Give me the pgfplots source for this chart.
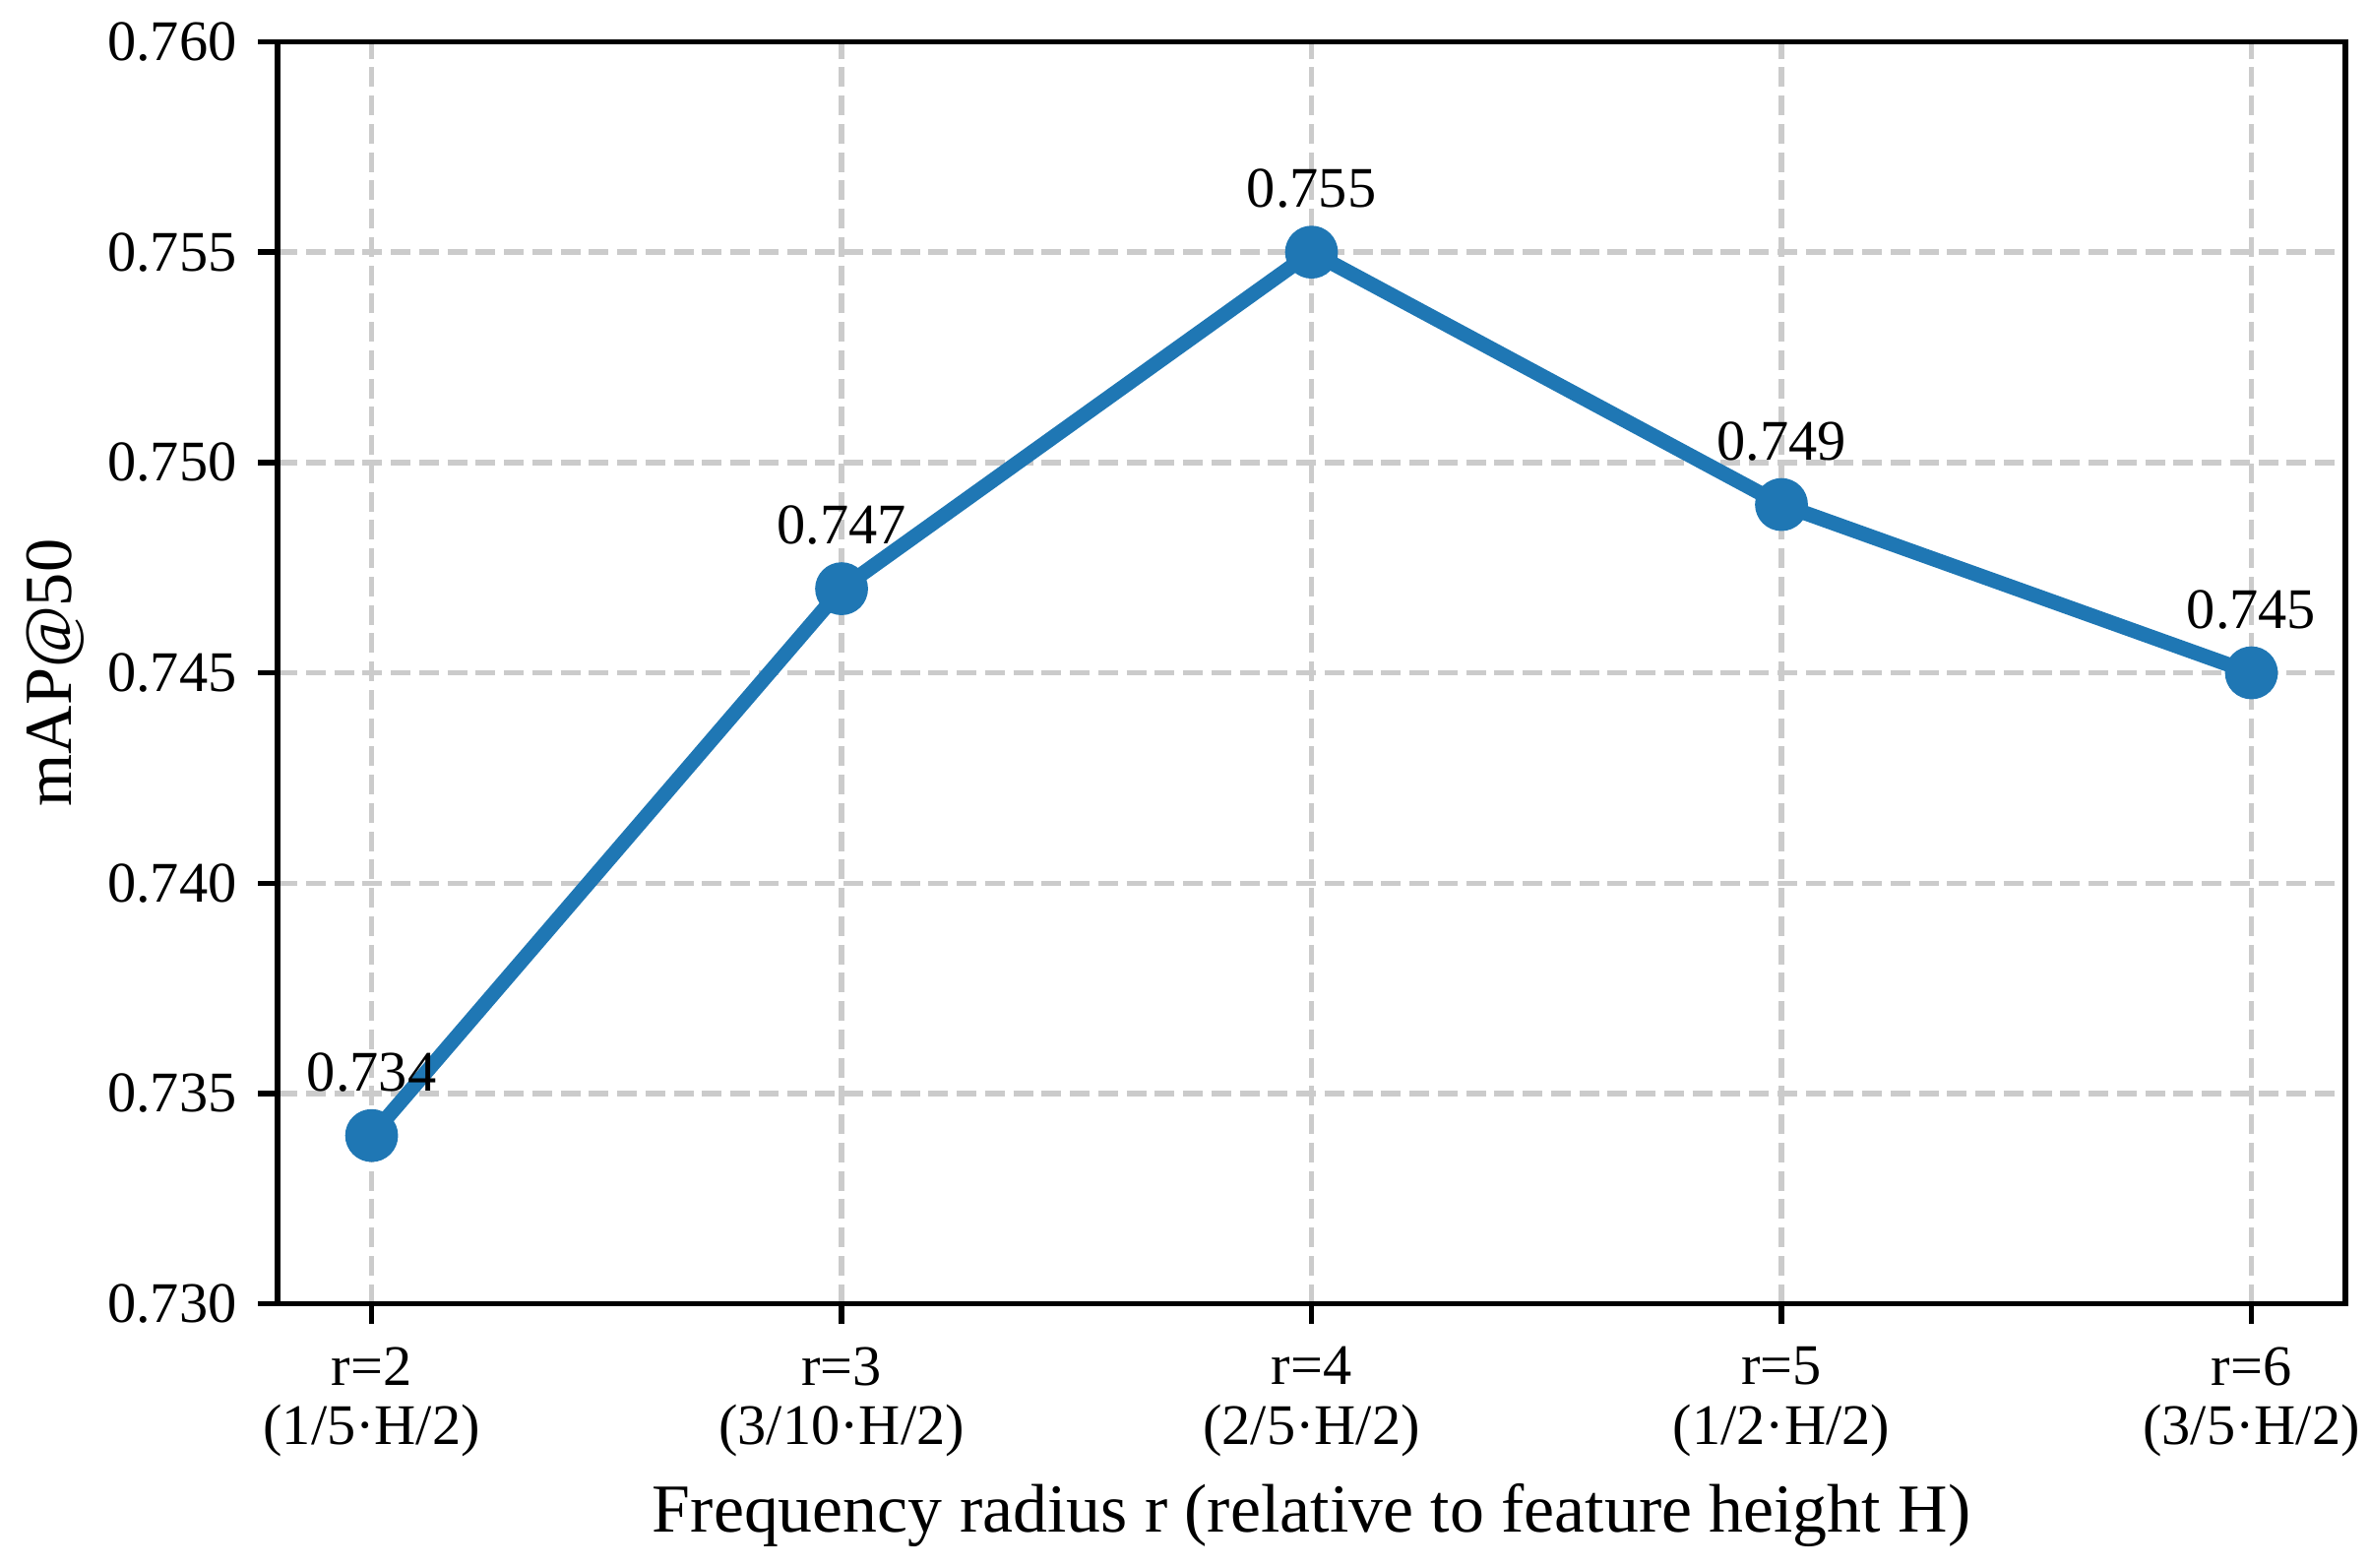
\documentclass[border=0pt]{standalone}
\usepackage{fontspec}
\setmainfont{Liberation Serif}
\usepackage{pgfplots}
\pgfplotsset{compat=1.18}
\definecolor{mplblue}{HTML}{1F77B4}
\definecolor{gridgray}{HTML}{CBCBCB}
\begin{document}
\begin{tikzpicture}
\useasboundingbox (-67.7pt,-64.4pt) rectangle (510.2pt,317.9pt);
\begin{axis}[
  at={(0,0)}, anchor=south west,
  scale only axis,
  width=504.2pt, height=307.7pt,
  xmin=1.8, xmax=6.2,
  ymin=0.730, ymax=0.760,
  xtick={2,3,4,5,6},
  xticklabels={{r=2\\(1/5·H/2)},{r=3\\(3/10·H/2)},{r=4\\(2/5·H/2)},{r=5\\(1/2·H/2)},{r=6\\(3/5·H/2)}},
  ytick={0.730,0.735,0.740,0.745,0.750,0.755,0.760},
  y tick label style={/pgf/number format/fixed, /pgf/number format/fixed zerofill, /pgf/number format/precision=3, /pgf/number format/assume math mode=true},
  yticklabel style={font=\fontsize{14}{16}\selectfont, anchor=east, inner sep=0pt, xshift=-5pt},
  xticklabel style={font=\fontsize{14}{14.5}\selectfont, align=center, anchor=north, inner sep=0pt, yshift=-5.5pt},
  scaled y ticks=false,
  tick pos=left,
  tick align=outside,
  major tick length=4.8pt,
  every tick/.style={black, line width=1.3pt},
  axis line style={black, line width=1.3pt},
  grid=major,
  major grid style={color=gridgray, line width=1.3pt, dash pattern=on 4.8pt off 2.1pt},
  xlabel={Frequency radius r (relative to feature height H)},
  ylabel={mAP@50},
  xlabel style={font=\fontsize{16.75}{18}\selectfont, at={(axis description cs:0.5,-0.181)}, anchor=base, inner sep=0pt},
  ylabel style={font=\fontsize{16.4}{18}\selectfont, at={(axis description cs:-0.09996,0.5)}, anchor=base, inner sep=0pt},
  clip=false,
]
\addplot[color=mplblue, line width=3.6pt, line join=round, mark=*, mark size=6.2pt,
  mark options={solid, fill=mplblue, draw=mplblue, line width=0.5pt},
  nodes near coords={\pgfmathprintnumber[fixed,fixed zerofill,precision=3,assume math mode=true]{\pgfplotspointmeta}},
  every node near coord/.append style={font=\fontsize{14}{16}\selectfont, black, anchor=base, inner sep=0pt, yshift=10.9pt},
] coordinates {
  (2,0.734) (3,0.747) (4,0.755) (5,0.749) (6,0.745)
};
\end{axis}
\end{tikzpicture}
\end{document}
